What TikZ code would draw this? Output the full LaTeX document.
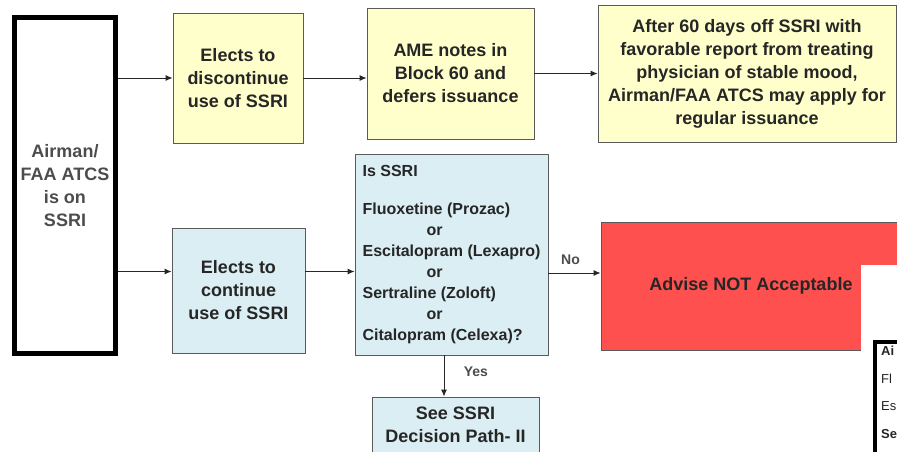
\documentclass[tikz,border=0pt]{standalone}
\usepackage{fontspec}
\setmainfont{Liberation Sans}
\usetikzlibrary{arrows.meta}
\definecolor{boxyellow}{HTML}{FFFFCC}
\definecolor{boxblue}{HTML}{DAEEF3}
\definecolor{boxred}{HTML}{FF5050}
\definecolor{boxline}{HTML}{5A5A5A}
\definecolor{txt}{HTML}{262626}

\begin{document}
\begin{tikzpicture}[x=1pt, y=-1pt,
	flowbox/.style={draw=boxline, line width=0.9pt, align=center, text=txt, inner sep=0pt,
		font=\bfseries\fontsize{18}{23}\selectfont},
	ylw/.style={flowbox, fill=boxyellow},
	blu/.style={flowbox, fill=boxblue},
	link/.style={-{Latex[length=7pt,width=6pt]}, line width=0.9pt, draw=black!85},
	lbl/.style={font=\bfseries\fontsize{14}{16}\selectfont, text=black!70}]
		\useasboundingbox (0,0) rectangle (897,451);
		\clip (0,0) rectangle (897,451);
		
		\node[flowbox, draw=black, line width=4.5pt, text=black!70, minimum width=101pt, minimum height=336pt] (airman) at (65,185.5) {Airman/\\FAA ATCS\\is on\\SSRI};
		
		\node[ylw, minimum width=130pt, minimum height=130pt] (disc) at (238,78) {Elects to\\discontinue\\use of SSRI};
		\node[ylw, minimum width=167pt, minimum height=131pt] (ame) at (450.5,73.5) {AME notes in\\Block 60 and\\defers issuance};
		\node[ylw, minimum width=298pt, minimum height=137pt] (after) at (747,73.5) {After 60 days off SSRI with\\favorable report from treating\\physician of stable mood,\\Airman/FAA ATCS may apply for\\regular issuance};
		
		\node[blu, minimum width=133pt, minimum height=125pt] (cont) at (238.5,290.5) {Elects to\\continue\\use of SSRI};
		\node[blu, minimum width=193pt, minimum height=201pt, align=left,
			font=\bfseries\fontsize{16}{21}\selectfont] (isssri) at (451.5,254.5)
			{Is SSRI\\[17pt]
			Fluoxetine (Prozac)\\ \makebox[144pt]{or}\\
			Escitalopram (Lexapro)\\ \makebox[144pt]{or}\\
			Sertraline (Zoloft)\\ \makebox[144pt]{or}\\
			Citalopram (Celexa)?};
		\node[flowbox, fill=boxred, minimum width=300pt, minimum height=128pt] (notacc) at (751,286) {Advise NOT Acceptable};
		\node[blu, minimum width=167pt, minimum height=56pt] (see) at (455.5,425) {See SSRI\\Decision Path- II};
		
		% next chart showing through at the right
		\fill[white] (861,265) rectangle (900,455);
		\draw[line width=4pt] (875,342) rectangle (960,480);
		\node[anchor=north west, align=left, inner sep=0pt, text=txt, font=\fontsize{13}{27.5}\selectfont] (nextchart) at (881,346)
			{\textbf{Ai}\\Fl\\Es\\\textbf{Se}};
		
		\coordinate (contin) at ([yshift=19pt]cont.west);
		\coordinate (noin) at ([yshift=13pt]notacc.west);
		\coordinate (seein) at ([xshift=-11.5pt]see.north);
		
		\draw[link] (airman.east |- disc.west) -- (disc.west);
		\draw[link] (disc.east) -- (disc.east -| ame.west);
		\draw[link] (ame.east) -- (ame.east -| after.west);
		\draw[link] (airman.east |- contin) -- (contin);
		\draw[link] (cont.east |- contin) -- (isssri.west |- contin);
		\draw[link] (isssri.east |- noin) -- node[lbl, above=5pt, xshift=-4pt] {No} (noin);
		\draw[link] (isssri.south -| seein) -- node[lbl, right=16pt, yshift=4pt] {Yes} (seein);
	\end{tikzpicture}
\end{document}
